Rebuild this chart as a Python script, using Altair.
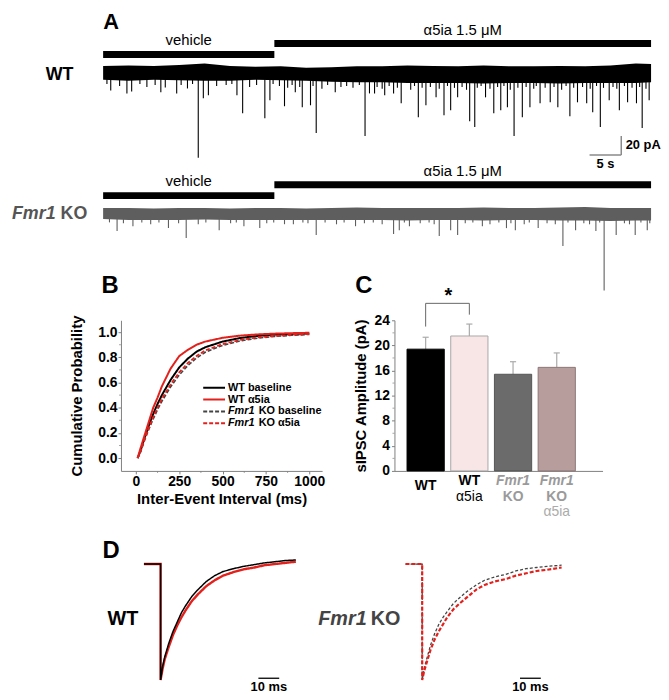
import altair as alt
import pandas as pd

FONT = "Liberation Sans"
RED = "#e3211c"
AXC = "#808080"

# ------------------------------------------------------------------ data
# Panel A : recording conditions (s)
cond_names = ["vehicle", "α5ia 1.5 μM"]
cond_start_s = [0.0, 27.0]
cond_end_s = [27.0, 86.4]

# noise envelope of the traces (pA)
band_t_s = [0, 4, 8, 12, 16, 20, 24, 28, 32, 36, 40, 44, 48, 52, 56, 60, 64, 68, 72, 76, 80, 84, 86.4]
wt_band_top = [7, 7.5, 7, 8, 9.5, 7, 6, 6.5, 5, 5.5, 6.5, 6.5, 7.5, 7, 6.5, 7.5, 6.5, 6.5, 7, 6.5, 7.5, 9.5, 9]
wt_band_bot = [-7.5, -8.5, -7.5, -8, -8.5, -8.5, -7.5, -8, -8.5, -9.5, -10, -10, -11, -11, -11, -11.5, -11, -11, -11.5, -11, -11, -11, -10]
ko_band_top = [6, 6, 5.5, 6, 6, 5.5, 6, 6, 5.5, 6, 6.5, 6, 6, 6, 6, 6.5, 6, 6, 6.5, 7, 6, 6, 6]
ko_band_bot = [-5.5, -6.5, -6.5, -6.5, -6, -6.5, -6.5, -6.5, -6.5, -6.5, -6.5, -6.5, -7, -6.5, -6.5, -7, -6.5, -6.5, -7, -7, -7.5, -7, -7]

# sIPSC events (time s, peak pA)
wt_event_t = [1.2, 3.75, 4.5, 9.1, 9.8, 11.6, 13.3, 15.0, 15.8, 16.6, 21.1, 22.0, 25.5, 26.3, 28.6, 30.3,
              31.4, 32.7, 33.6, 36.6, 41.3, 42.0, 42.8, 44.4, 45.8, 47.0, 49.7, 50.9, 52.5, 53.75, 54.8,
              55.9, 57.8, 58.6, 60.3, 61.6, 62.7, 63.75, 64.8, 66.1, 67.3, 68.9, 70.5, 71.7, 73.6, 74.8,
              76.25, 77.2, 78.4, 79.8, 81.4, 82.7, 84.1, 85.0, 86.1]
wt_event_pA = [-18.7, -21.8, -19.7, -20.7, -15.5, -21.8, -16.6, -89.1, -26.9, -23.8, -23.8, -42.5, -47.7,
               -29.0, -35.2, -20.7, -36.3, -34.2, -63.2, -20.7, -66.3, -21.8, -21.8, -23.8, -21.8, -32.1,
               -46.6, -34.2, -25.9, -44.6, -39.4, -25.9, -50.8, -57.0, -25.9, -42.5, -39.4, -36.3, -66.3,
               -46.6, -36.3, -32.1, -31.1, -36.3, -45.6, -31.1, -32.1, -41.5, -57.0, -29.0, -39.4, -31.1,
               -32.1, -58.0, -29.0]
wt_small_t = [0.6, 2.6, 5.8, 6.9, 8.2, 12.3, 14.1, 17.9, 19.4, 20.3, 23.1, 24.2, 26.8, 27.8, 29.1, 29.8,
              31.0, 33.1, 34.5, 35.4, 37.5, 38.4, 39.4, 40.4, 43.2, 44.0, 45.1, 46.4, 48.5, 49.1, 50.3,
              51.6, 53.0, 54.3, 55.4, 56.6, 57.3, 59.0, 59.6, 61.0, 62.2, 63.2, 64.2, 65.4, 66.7, 67.9,
              68.3, 69.7, 71.1, 72.3, 73.0, 74.2, 75.6, 76.8, 77.8, 78.9, 80.4, 81.0, 82.2, 83.4, 84.6, 85.6]
wt_small_pA = [-12, -14, -12, -15, -13, -13, -12, -14, -13, -12, -15, -13, -12, -14, -16, -13, -15, -14,
               -17, -13, -15, -14, -16, -13, -15, -17, -14, -16, -18, -14, -16, -15, -17, -14, -16, -15,
               -18, -16, -14, -17, -15, -14, -18, -16, -15, -17, -14, -16, -15, -18, -14, -16, -15, -17,
               -14, -16, -15, -17, -14, -16, -15, -17]
ko_event_t = [2.2, 4.7, 10.3, 13.1, 18.3, 22.2, 24.7, 28.6, 33.6, 39.8, 45.8, 46.7, 48.3, 53.0, 54.8,
              55.9, 59.8, 63.6, 65.0, 68.6, 72.5, 74.5, 77.7, 79.0, 80.9, 83.9, 85.8]
ko_event_pA = [-18.1, -13.0, -15.0, -25.4, -17.1, -13.0, -15.0, -10.9, -22.3, -13.0, -21.2, -17.1, -13.0,
               -23.3, -17.1, -22.3, -13.0, -15.0, -17.1, -15.0, -33.7, -17.1, -18.1, -80.3, -22.3, -22.3,
               -17.1]
ko_small_t = [1.0, 3.2, 6.1, 7.5, 8.8, 11.9, 15.0, 16.2, 20.1, 21.0, 25.8, 26.9, 30.0, 31.5, 32.3, 35.0,
              36.8, 38.0, 41.2, 42.6, 44.0, 47.5, 50.0, 51.4, 52.2, 57.1, 58.3, 61.0, 62.4, 64.3, 66.4,
              67.2, 70.0, 71.3, 73.3, 75.8, 76.7, 78.3, 82.2, 83.0, 84.8, 86.2]
ko_small_pA = [-9, -10, -9, -11, -9, -10, -11, -9, -10, -9, -10, -9, -11, -9, -10, -9, -11, -9, -10, -9,
               -11, -9, -10, -9, -11, -10, -9, -11, -9, -10, -11, -9, -10, -11, -9, -10, -11, -9, -10,
               -11, -9, -10]
SCALE_PA = 20
SCALE_S = 5

# Panel B : cumulative probability of inter-event interval
iei_ms = [10, 25, 50, 75, 100, 125, 150, 200, 250, 300, 350, 400, 500, 600, 700, 800, 900, 1000]
cdf_wt_base = [0, 0.05, 0.16, 0.26, 0.35, 0.43, 0.50, 0.62, 0.72, 0.79, 0.845, 0.88, 0.925, 0.953, 0.97, 0.98, 0.986, 0.99]
cdf_wt_a5 = [0, 0.07, 0.18, 0.29, 0.40, 0.48, 0.57, 0.71, 0.81, 0.86, 0.90, 0.925, 0.955, 0.972, 0.982, 0.988, 0.992, 0.995]
cdf_ko_base = [0, 0.04, 0.14, 0.23, 0.31, 0.385, 0.45, 0.565, 0.66, 0.735, 0.795, 0.84, 0.895, 0.93, 0.952, 0.966, 0.975, 0.982]
cdf_ko_a5 = [0, 0.045, 0.15, 0.24, 0.325, 0.40, 0.47, 0.585, 0.68, 0.755, 0.81, 0.855, 0.905, 0.938, 0.958, 0.97, 0.978, 0.985]

# Panel C : sIPSC amplitude
groups = ["WT", "WT α5ia", "Fmr1 KO", "Fmr1 KO α5ia"]
amp_mean = [19.4, 21.5, 15.4, 16.5]
amp_sem = [1.9, 1.9, 2.0, 2.3]

# Panel D : normalised average sIPSC (ms, fraction of peak)
d_wt_t = [-8, 0, 0, 1, 2, 4, 6, 8, 10, 12, 15, 18, 22, 26, 30, 35, 40, 45, 50, 55, 60, 65]
d_wt_base = [0, 0, -1, -0.88, -0.80, -0.68, -0.58, -0.50, -0.42, -0.36, -0.28, -0.22, -0.15, -0.10, -0.065, -0.04, -0.02, -0.005, 0.01, 0.02, 0.03, 0.035]
d_wt_a5 = [0, 0, -1, -0.90, -0.82, -0.71, -0.61, -0.53, -0.46, -0.40, -0.32, -0.26, -0.19, -0.14, -0.10, -0.07, -0.045, -0.03, -0.01, 0.0, 0.01, 0.02]
d_ko_t = [-8, 0, 0, 1, 2, 4, 6, 8, 10, 12, 15, 18, 22, 26, 30, 35, 40, 45, 50, 55, 60, 67]
d_ko_base = [0, 0, -1, -0.9, -0.83, -0.7, -0.6, -0.52, -0.46, -0.41, -0.34, -0.29, -0.23, -0.18, -0.14, -0.11, -0.09, -0.06, -0.04, -0.03, -0.02, -0.01]
d_ko_a5 = [0, 0, -1, -0.92, -0.86, -0.74, -0.65, -0.58, -0.52, -0.46, -0.39, -0.34, -0.28, -0.22, -0.18, -0.15, -0.13, -0.10, -0.08, -0.06, -0.05, -0.03]
SCALE_MS = 10


# ------------------------------------------------------------------ helpers
def label(txt, x, y, size, weight="bold", style="normal", color="black", align="center", baseline="middle"):
    return alt.Chart(pd.DataFrame({"txt": [txt]})).mark_text(
        font=FONT, fontSize=size, fontWeight=weight, fontStyle=style, color=color,
        align=align, baseline=baseline
    ).encode(x=alt.value(x), y=alt.value(y), text="txt:N")


W = 653

# ------------------------------------------------------------------ panel A
xA = alt.Scale(domain=[-15.0, 87.03], nice=False, zero=False)
yWT = alt.Scale(domain=[-98.45, 64.25], nice=False, zero=False)
yKO = alt.Scale(domain=[-111.4, 49.22], nice=False, zero=False)
COND_BAR_LEVEL = [19.0, 30.4]
COND_TEXT_LEVEL = [33.9, 44.2]


def trace_layers(top, bot, ev_t, ev_a, sm_t, sm_a, color, ys):
    band = pd.DataFrame({"t": band_t_s, "top": top, "bot": bot})
    ev = pd.DataFrame({"t": ev_t + sm_t, "amp": ev_a + sm_a})
    cond = pd.DataFrame({"name": cond_names, "start": cond_start_s, "end": cond_end_s,
                         "bar": COND_BAR_LEVEL, "lab": COND_TEXT_LEVEL})
    spikes = alt.Chart(ev).transform_calculate(base="0").mark_rule(color=color, strokeWidth=1.1).encode(
        x=alt.X("t:Q", scale=xA, axis=None), y=alt.Y("amp:Q", scale=ys, axis=None), y2="base:Q")
    band_l = alt.Chart(band).mark_area(color=color, interpolate="linear").encode(
        x=alt.X("t:Q", scale=xA, axis=None), y=alt.Y("top:Q", scale=ys, axis=None), y2="bot:Q")
    bars = alt.Chart(cond).mark_rule(color="black", strokeWidth=7).encode(
        x=alt.X("start:Q", scale=xA, axis=None), x2="end:Q", y=alt.Y("bar:Q", scale=ys, axis=None))
    labs = alt.Chart(cond).transform_calculate(mid="(datum.start + datum.end) / 2").mark_text(
        font=FONT, fontSize=15, baseline="middle").encode(
        x=alt.X("mid:Q", scale=xA, axis=None), y=alt.Y("lab:Q", scale=ys, axis=None), text="name:N")
    return [spikes, band_l, bars, labs]


SB_X, SB_Y = 81.7, -86.3
sb_v = pd.DataFrame({"x": [SB_X], "y0": [SB_Y], "y1": [SB_Y + SCALE_PA]})
sb_h = pd.DataFrame({"x0": [SB_X - SCALE_S], "x1": [SB_X], "y": [SB_Y]})
scalebar = [
    alt.Chart(sb_v).mark_rule(color="#8a8a8a", strokeWidth=1.5).encode(
        x=alt.X("x:Q", scale=xA, axis=None), y=alt.Y("y0:Q", scale=yWT, axis=None), y2="y1:Q"),
    alt.Chart(sb_h).mark_rule(color="#8a8a8a", strokeWidth=1.5).encode(
        x=alt.X("x0:Q", scale=xA, axis=None), x2="x1:Q", y=alt.Y("y:Q", scale=yWT, axis=None)),
    alt.Chart(pd.DataFrame({"x": [SB_X + 0.7], "y": [SB_Y + SCALE_PA / 2], "t": [f"{SCALE_PA} pA"]})).mark_text(
        font=FONT, fontSize=13, fontWeight="bold", align="left", baseline="middle").encode(
        x=alt.X("x:Q", scale=xA, axis=None), y=alt.Y("y:Q", scale=yWT, axis=None), text="t:N"),
    alt.Chart(pd.DataFrame({"x": [SB_X - SCALE_S / 2], "y": [SB_Y - 9.7], "t": [f"{SCALE_S} s"]})).mark_text(
        font=FONT, fontSize=13, fontWeight="bold", align="center", baseline="middle").encode(
        x=alt.X("x:Q", scale=xA, axis=None), y=alt.Y("y:Q", scale=yWT, axis=None), text="t:N"),
]

a_wt = alt.layer(
    *trace_layers(wt_band_top, wt_band_bot, wt_event_t, wt_event_pA, wt_small_t, wt_small_pA, "#000000", yWT),
    *scalebar,
    label("A", 104, 11, 22),
    label("WT", 52, 64, 18),
).properties(width=W, height=157)

a_ko = alt.layer(
    *trace_layers(ko_band_top, ko_band_bot, ko_event_t, ko_event_pA, ko_small_t, ko_small_pA, "#5e5e5e", yKO),
    label("KO", 80, 48, 18, color="#555555", align="right"),
    label("Fmr1", 48, 48, 18, style="italic", color="#555555", align="right"),
).properties(width=W, height=155)

# ------------------------------------------------------------------ panels B and C (one row)
BC_H = 152
B_X0, B_X1 = 114, 317
C_X0, C_X1 = 390, 600

xB = alt.Scale(domain=[-86, 1074], range=[B_X0, B_X1], nice=False, zero=False)
yB = alt.Scale(domain=[-0.102, 1.094], nice=False, zero=False)
axBx = alt.Axis(values=[0, 250, 500, 750, 1000], format="d", title="Inter-Event Interval (ms)", grid=False,
                orient="bottom",
                labelFont=FONT, labelFontSize=14, labelFontWeight="bold", labelColor="black",
                titleFont=FONT, titleFontSize=15, titleFontWeight="bold", titleColor="black",
                tickSize=3, tickColor=AXC, domainColor=AXC, labelPadding=1, titlePadding=3)
axBy = alt.Axis(values=[0, 0.2, 0.4, 0.6, 0.8, 1.0], format=".1f", title="Cumulative Probability", grid=False,
                orient="left", offset=-B_X0,
                labelFont=FONT, labelFontSize=14, labelFontWeight="bold", labelColor="black",
                titleFont=FONT, titleFontSize=15, titleFontWeight="bold", titleColor="black",
                tickSize=3, tickColor=AXC, domainColor=AXC, labelPadding=1, titlePadding=13)

series_B = [
    ("WT baseline", cdf_wt_base, "#000000", [1, 0], 2.0),
    ("Fmr1 KO baseline", cdf_ko_base, "#444444", [4, 2], 1.6),
    ("Fmr1 KO α5ia", cdf_ko_a5, RED, [4, 2], 1.8),
    ("WT α5ia", cdf_wt_a5, RED, [1, 0], 2.0),
]
b_layers = []
for name, vals, col, dash, sw in series_B:
    df = pd.DataFrame({"ms": iei_ms, "p": vals})
    b_layers.append(alt.Chart(df).mark_line(color=col, strokeDash=dash, strokeWidth=sw).encode(
        x=alt.X("ms:Q", scale=xB, axis=axBx), y=alt.Y("p:Q", scale=yB, axis=axBy)))
b_layers.append(alt.Chart(pd.DataFrame({"v": [0.1, 0.3, 0.5, 0.7, 0.9]})).mark_tick(
    orient="horizontal", size=2, thickness=1, color=AXC).encode(
    x=alt.value(B_X0 - 1), y=alt.Y("v:Q", scale=yB, axis=axBy)))
b_layers.append(alt.Chart(pd.DataFrame({"v": [125, 375, 625, 875]})).mark_tick(
    orient="vertical", size=2, thickness=1, color=AXC).encode(
    x=alt.X("v:Q", scale=xB, axis=axBx), y=alt.value(BC_H + 1)))
leg_rows = [("WT baseline", "#000000", [1, 0], None), ("WT α5ia", RED, [1, 0], None),
            ("KO baseline", "#444444", [4, 2], "Fmr1"), ("KO α5ia", RED, [4, 2], "Fmr1")]
LX = B_X0 + 83
for k, (txt, col, dash, ital) in enumerate(leg_rows):
    yy = 68 + 12 * k
    b_layers.append(alt.Chart(pd.DataFrame({"a": [0]})).mark_rule(color=col, strokeDash=dash, strokeWidth=2).encode(
        x=alt.value(LX), x2=alt.value(LX + 22), y=alt.value(yy)))
    if ital:
        b_layers.append(label(ital, LX + 25, yy, 11, style="italic", align="left"))
        b_layers.append(label(txt, LX + 56, yy, 11, align="left"))
    else:
        b_layers.append(label(txt, LX + 25, yy, 11, align="left"))
b_layers.append(label("B", B_X0 - 11, -35, 24))

xC = alt.Scale(domain=[-0.714, 4.048], range=[C_X0, C_X1], nice=False, zero=False)
yC = alt.Scale(domain=[0, 24], nice=False, zero=False)
axCx = alt.Axis(labels=False, ticks=False, title=None, grid=False, domainColor=AXC, orient="bottom")
axCy = alt.Axis(values=[0, 4, 8, 12, 16, 20, 24], title="sIPSC Amplitude (pA)", grid=False,
                orient="left", offset=-C_X0,
                labelFont=FONT, labelFontSize=14, labelFontWeight="bold", labelColor="black",
                titleFont=FONT, titleFontSize=15, titleFontWeight="bold", titleColor="black",
                tickSize=3, tickColor=AXC, domainColor=AXC, labelPadding=2, titlePadding=6)
BAR_HALF = 0.426
CAP_HALF = 0.07
fills = ["#000000", "#f8e6e6", "#6b6b6b", "#b89d9d"]
strokes = ["#000000", "#a8a8a8", "#555555", "#8e7676"]
cdf = pd.DataFrame({"g": groups, "mean": amp_mean, "sem": amp_sem, "i": list(range(len(groups)))})
base_c = alt.Chart(cdf).transform_calculate(
    x0=f"datum.i - {BAR_HALF}", x1=f"datum.i + {BAR_HALF}", upper="datum.mean + datum.sem",
    c0=f"datum.i - {CAP_HALF}", c1=f"datum.i + {CAP_HALF}", zero="0")
c_layers = [
    base_c.mark_rule(color="#aaaaaa", strokeWidth=1.2).encode(
        x=alt.X("i:Q", scale=xC, axis=axCx), y=alt.Y("mean:Q", scale=yC, axis=axCy), y2="upper:Q"),
    base_c.mark_rule(color="#aaaaaa", strokeWidth=1.2).encode(
        x=alt.X("c0:Q", scale=xC, axis=axCx), x2="c1:Q", y=alt.Y("upper:Q", scale=yC, axis=axCy)),
    base_c.mark_rect(strokeWidth=1).encode(
        x=alt.X("x0:Q", scale=xC, axis=axCx), x2="x1:Q",
        y=alt.Y("mean:Q", scale=yC, axis=axCy), y2="zero:Q",
        fill=alt.Fill("g:N", scale=alt.Scale(domain=groups, range=fills), legend=None),
        stroke=alt.Stroke("g:N", scale=alt.Scale(domain=groups, range=strokes), legend=None)),
]
c_layers.append(alt.Chart(pd.DataFrame({"v": [2, 6, 10, 14, 18, 22]})).mark_tick(
    orient="horizontal", size=2, thickness=1, color=AXC).encode(
    x=alt.value(C_X0 - 1), y=alt.Y("v:Q", scale=yC, axis=axCy)))
# significance bracket WT vs WT α5ia
br = pd.DataFrame({"x0": [0, 0, 1], "x1": [1, 0, 1], "y0": [26.7, 23.0, 24.9], "y1": [26.7, 26.7, 26.7]})
c_layers.append(alt.Chart(br).mark_rule(color="#666666", strokeWidth=1).encode(
    x=alt.X("x0:Q", scale=xC, axis=axCx), x2="x1:Q", y=alt.Y("y0:Q", scale=yC, axis=axCy), y2="y1:Q"))
c_layers.append(alt.Chart(pd.DataFrame({"x": [0.52], "y": [27.9], "t": ["*"]})).mark_text(
    font=FONT, fontSize=20, fontWeight="bold", baseline="middle").encode(
    x=alt.X("x:Q", scale=xC, axis=axCx), y=alt.Y("y:Q", scale=yC, axis=axCy), text="t:N"))
# category labels
line1 = ["WT", "WT", "Fmr1", "Fmr1"]
line2 = ["", "α5ia", "KO", "KO"]
line3 = ["", "", "", "α5ia"]
lab_specs = [
    (line1, [0], 167, "bold", "normal", "black"),
    (line1, [1], 162, "bold", "normal", "black"),
    (line1, [2, 3], 162, "bold", "italic", "#9a9a9a"),
    (line2, [1], 178, "normal", "normal", "black"),
    (line2, [2, 3], 178, "bold", "normal", "#9a9a9a"),
    (line3, [3], 194, "normal", "normal", "#ababab"),
]
for lines, idx, yy, w, st, col in lab_specs:
    df = pd.DataFrame({"i": idx, "t": [lines[j] for j in idx]})
    c_layers.append(alt.Chart(df).mark_text(font=FONT, fontSize=14, fontWeight=w, fontStyle=st, color=col,
                                            baseline="middle").encode(
        x=alt.X("i:Q", scale=xC, axis=axCx), y=alt.value(yy), text="t:N"))
c_layers.append(label("C", C_X0 - 31, -35, 24))

row_bc = alt.layer(alt.layer(*b_layers), alt.layer(*c_layers)).resolve_scale(
    x="independent", y="independent").resolve_axis(x="independent", y="independent").properties(
    width=W, height=BC_H)

# ------------------------------------------------------------------ panel D
D_H = 220
D_SPLIT = 322
yD = alt.Scale(domain=[-1.077, 0.803], nice=False, zero=False)


def d_panel(t, a, b, col_a, col_b, dash_a, dash_b, sw_a, sw_b, xdom, xrange):
    xs = alt.Scale(domain=xdom, range=xrange, nice=False, zero=False)
    layers = []
    for vals, col, dash, sw in [(a, col_a, dash_a, sw_a), (b, col_b, dash_b, sw_b)]:
        df = pd.DataFrame({"t": t, "v": vals, "k": list(range(len(t)))})
        layers.append(alt.Chart(df).mark_line(color=col, strokeDash=dash, strokeWidth=sw).encode(
            x=alt.X("t:Q", scale=xs, axis=None), y=alt.Y("v:Q", scale=yD, axis=None), order="k:Q"))
    sb = pd.DataFrame({"x0": [47.0], "x1": [47.0 + SCALE_MS], "y": [-0.985]})
    layers.append(alt.Chart(sb).mark_rule(color="black", strokeWidth=1.3).encode(
        x=alt.X("x0:Q", scale=xs, axis=None), x2="x1:Q", y=alt.Y("y:Q", scale=yD, axis=None)))
    layers.append(alt.Chart(pd.DataFrame({"x": [47.0 + SCALE_MS / 2], "y": [-1.065], "t": [f"{SCALE_MS} ms"]})).mark_text(
        font=FONT, fontSize=13, fontWeight="bold", baseline="middle").encode(
        x=alt.X("x:Q", scale=xs, axis=None), y=alt.Y("y:Q", scale=yD, axis=None), text="t:N"))
    return layers


# WT: α5ia (red) drawn first, baseline (black, thinner) on top
d_wt_layers = d_panel(d_wt_t, d_wt_a5, d_wt_base, RED, "#000000", [1, 0], [1, 0], 2.4, 1.5,
                      [-73.33, 80.0], [0, D_SPLIT]) + [label("D", 104, 81, 24), label("WT", 116, 150, 20)]
d_ko_layers = d_panel(d_ko_t, d_ko_base, d_ko_a5, "#444444", RED, [3, 2], [4, 2], 1.3, 2.2,
                      [-45.71, 111.9], [D_SPLIT, W]) + [
    label("KO", D_SPLIT + 74, 150, 20, color="#444444", align="right"),
    label("Fmr1", D_SPLIT + 40, 150, 20, style="italic", color="#444444", align="right")]

row_d = alt.layer(alt.layer(*d_wt_layers), alt.layer(*d_ko_layers)).resolve_scale(
    x="independent").properties(width=W, height=D_H)

chart = alt.vconcat(a_wt, a_ko, row_bc, row_d, spacing=0, bounds="flush").properties(
    padding=0).configure_view(stroke=None)

chart.save("out.html", embed_options={"renderer": "svg", "actions": False})
